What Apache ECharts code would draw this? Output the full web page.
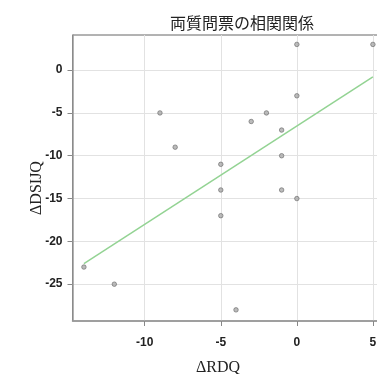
<!DOCTYPE html>
<html>
<head>
<meta charset="utf-8">
<script src="https://cdn.jsdelivr.net/npm/echarts@6/dist/echarts.min.js"></script>
<style>
html,body{margin:0;padding:0;background:#fff;}
#c{width:377px;height:374px;}
</style>
</head>
<body>
<div id="c"></div>
<script>
// Data
var rdqValues   = [0, 5, 0, -9, -3, -2, -1, -8, -5, -1, -5, -1, 0, -5, -14, -12, -4];
var dsijqValues = [3, 3, -3, -5, -6, -5, -7, -9, -11, -10, -14, -14, -15, -17, -23, -25, -28];
var trendX = [-14, 5];
var trendY = [-22.6, -0.8];
var xTicks = [-10, -5, 0, 5];
var yTicks = [-25, -20, -15, -10, -5, 0];
var titleText = '両質問票の相関関係';
var xName = 'ΔRDQ';
var yName = 'ΔDSIJQ';

var points = rdqValues.map(function (x, i) { return [x, dsijqValues[i]]; });
var trend = trendX.map(function (x, i) { return [x, trendY[i]]; });

var chart = echarts.init(document.getElementById('c'), null, {renderer: 'canvas'});
chart.setOption({
  animation: false,
  backgroundColor: '#fff',
  title: {
    text: titleText,
    left: 237, top: 10, textAlign: 'center',
    textStyle: {fontFamily: 'Noto Sans CJK JP', fontSize: 16, fontWeight: 'normal', color: '#222'}
  },
  grid: {
    left: 72.5, top: 35, width: 308, height: 286,
    outerBoundsMode: 'none', containLabel: false,
    show: true, borderColor: '#666', borderWidth: 1, backgroundColor: 'transparent'
  },
  xAxis: {
    type: 'value', min: -14.75, max: 5.5,
    axisLine: {show: true, onZero: false, lineStyle: {color: '#999', width: 1.5}},
    axisTick: {show: true, length: 5, customValues: xTicks, lineStyle: {color: '#888'}},
    axisLabel: {customValues: xTicks, margin: 16, fontFamily: 'Liberation Sans', fontWeight: 'bold', fontSize: 12, color: '#222'},
    splitLine: {show: true, lineStyle: {color: '#e2e2e2'}}
  },
  yAxis: {
    type: 'value', min: -29.3, max: 4.1,
    axisLine: {show: true, onZero: false, lineStyle: {color: '#999', width: 1.5}},
    axisTick: {show: true, length: 5, customValues: yTicks, lineStyle: {color: '#888'}},
    axisLabel: {customValues: yTicks, margin: 10, fontFamily: 'Liberation Sans', fontWeight: 'bold', fontSize: 12, color: '#222'},
    splitLine: {show: true, lineStyle: {color: '#e2e2e2'}}
  },
  graphic: [
    {type: 'text', x: 218, y: 368, style: {text: xName, fontFamily: 'Liberation Serif', fontSize: 16, fill: '#222', align: 'center', verticalAlign: 'middle'}},
    {type: 'text', x: 37, y: 188, rotation: Math.PI / 2, style: {text: yName, fontFamily: 'Liberation Serif', fontSize: 16, fill: '#222', align: 'center', verticalAlign: 'middle'}}
  ],
  series: [
    {
      type: 'line', data: trend, symbol: 'none', silent: true,
      lineStyle: {color: '#93d393', width: 1.5}, z: 2
    },
    {
      type: 'scatter', data: points, symbol: 'circle', symbolSize: 4.5,
      itemStyle: {color: '#aaa', borderColor: '#666', borderWidth: 0.8}, z: 3
    }
  ]
});
</script>
</body>
</html>
